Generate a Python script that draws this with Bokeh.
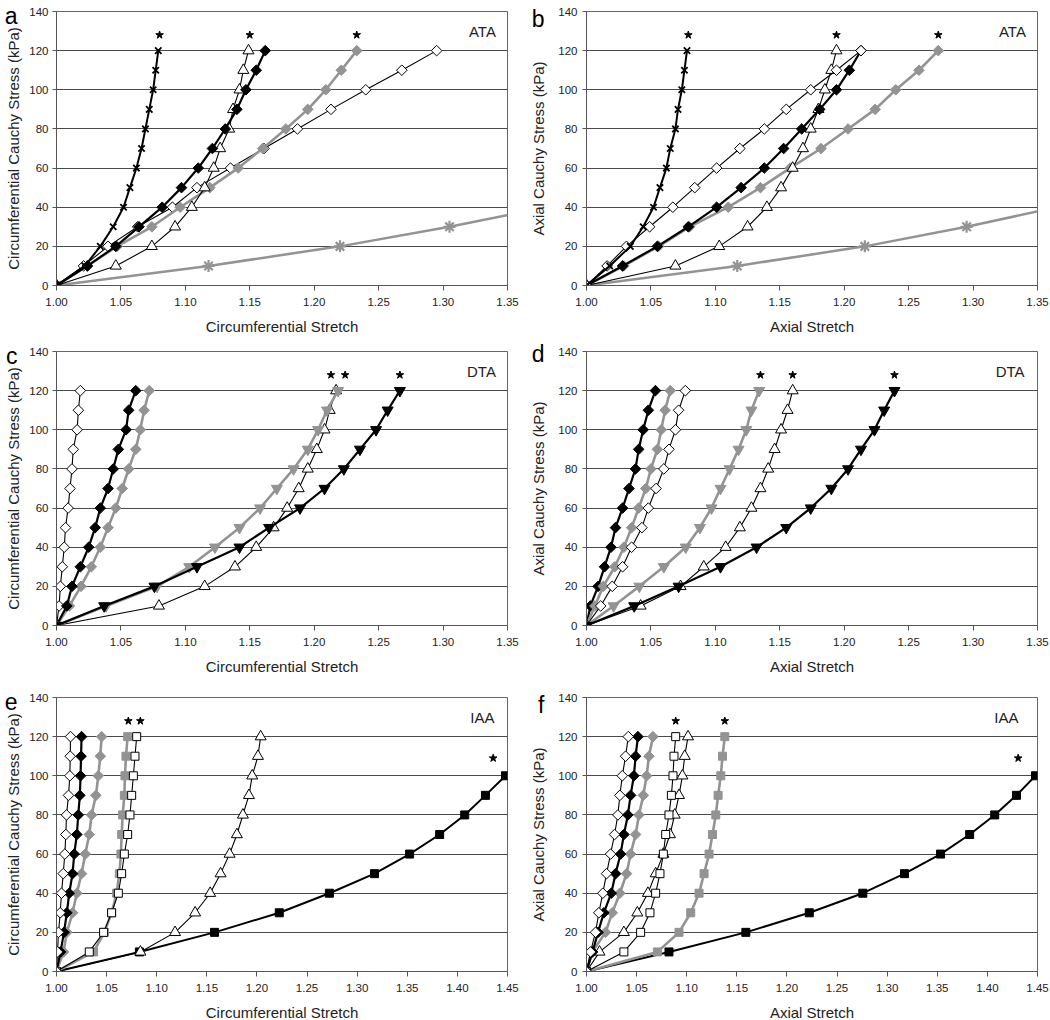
import numpy as np
from bokeh.plotting import figure
from bokeh.layouts import row, column
from bokeh.models import Label, FixedTicker, NumeralTickFormatter, LinearAxis
from bokeh.embed import file_html
from bokeh.resources import INLINE

# ---------------- data ----------------
STRESS = [0, 10, 20, 30, 40, 50, 60, 70, 80, 90, 100, 110, 120]
STRESS_100 = [0, 10, 20, 30, 40, 50, 60, 70, 80, 90, 100]
STRESS_AST = [0, 10, 20, 30, 40]
Y_TICKS = [0, 20, 40, 60, 80, 100, 120, 140]
X_TICKS_135 = [1.00, 1.05, 1.10, 1.15, 1.20, 1.25, 1.30, 1.35]
X_TICKS_145 = [1.00, 1.05, 1.10, 1.15, 1.20, 1.25, 1.30, 1.35, 1.40, 1.45]

# panel a (ATA, circumferential)
a_blk_cross = [1.000, 1.022, 1.034, 1.044, 1.052, 1.057, 1.062, 1.066, 1.069, 1.072, 1.075, 1.077, 1.079]
a_open_tri = [1.000, 1.046, 1.074, 1.092, 1.105, 1.115, 1.122, 1.127, 1.134, 1.137, 1.142, 1.145, 1.149]
a_blk_dia = [1.000, 1.024, 1.046, 1.064, 1.082, 1.097, 1.110, 1.121, 1.131, 1.140, 1.147, 1.155, 1.162]
a_open_dia = [1.000, 1.021, 1.040, 1.063, 1.090, 1.109, 1.135, 1.161, 1.187, 1.213, 1.240, 1.268, 1.295]
a_gray_dia = [1.000, 1.024, 1.047, 1.074, 1.096, 1.119, 1.141, 1.160, 1.178, 1.195, 1.209, 1.221, 1.233]
a_gray_ast = [1.000, 1.118, 1.220, 1.305, 1.380]
a_star_x = [1.080, 1.150, 1.233]
a_star_y = [128, 128, 128]

# panel b (ATA, axial)
b_blk_cross = [1.000, 1.018, 1.034, 1.044, 1.052, 1.057, 1.062, 1.065, 1.069, 1.071, 1.074, 1.076, 1.078]
b_open_dia = [1.000, 1.016, 1.031, 1.049, 1.067, 1.084, 1.101, 1.119, 1.138, 1.155, 1.174, 1.194, 1.213]
b_blk_dia = [1.000, 1.028, 1.055, 1.079, 1.101, 1.120, 1.138, 1.153, 1.167, 1.181, 1.194, 1.204, 1.213]
b_gray_dia = [1.000, 1.029, 1.056, 1.080, 1.110, 1.135, 1.158, 1.182, 1.203, 1.224, 1.240, 1.258, 1.273]
b_open_tri = [1.000, 1.069, 1.103, 1.125, 1.140, 1.151, 1.160, 1.168, 1.174, 1.180, 1.185, 1.190, 1.194]
b_gray_ast = [1.000, 1.117, 1.216, 1.295, 1.365]
b_star_x = [1.079, 1.194, 1.273]
b_star_y = [128, 128, 128]

# panel c (DTA, circumferential)
c_open_dia = [1.000, 1.002, 1.003, 1.0045, 1.006, 1.007, 1.009, 1.0105, 1.012, 1.013, 1.016, 1.017, 1.0185]
c_blk_dia = [1.000, 1.008, 1.012, 1.0185, 1.025, 1.030, 1.034, 1.040, 1.044, 1.048, 1.054, 1.056, 1.0615]
c_gray_dia = [1.000, 1.010, 1.019, 1.027, 1.034, 1.040, 1.046, 1.051, 1.056, 1.0615, 1.065, 1.068, 1.072]
c_gray_inv = [1.000, 1.0385, 1.078, 1.103, 1.123, 1.142, 1.158, 1.171, 1.184, 1.195, 1.203, 1.210, 1.2185]
c_open_tri = [1.000, 1.0795, 1.115, 1.1385, 1.155, 1.1685, 1.179, 1.188, 1.195, 1.202, 1.208, 1.212, 1.217]
c_blk_inv = [1.000, 1.037, 1.076, 1.109, 1.142, 1.165, 1.189, 1.208, 1.223, 1.2355, 1.248, 1.257, 1.2665]
c_star_x = [1.213, 1.224, 1.2665]
c_star_y = [128, 128, 128]

# panel d (DTA, axial)
d_blk_dia = [1.000, 1.003, 1.009, 1.014, 1.019, 1.0225, 1.028, 1.033, 1.038, 1.0405, 1.044, 1.048, 1.0535]
d_gray_dia = [1.000, 1.0065, 1.013, 1.022, 1.029, 1.035, 1.0405, 1.046, 1.050, 1.055, 1.058, 1.061, 1.065]
d_open_dia = [1.000, 1.011, 1.020, 1.028, 1.035, 1.043, 1.048, 1.054, 1.060, 1.064, 1.069, 1.0715, 1.0767]
d_gray_inv = [1.000, 1.021, 1.041, 1.060, 1.077, 1.088, 1.097, 1.104, 1.111, 1.118, 1.124, 1.128, 1.134]
d_open_tri = [1.000, 1.042, 1.073, 1.091, 1.108, 1.119, 1.128, 1.135, 1.141, 1.146, 1.151, 1.156, 1.160]
d_blk_inv = [1.000, 1.037, 1.0715, 1.104, 1.132, 1.155, 1.174, 1.190, 1.203, 1.213, 1.2235, 1.231, 1.239]
d_star_x = [1.135, 1.160, 1.239]
d_star_y = [128, 128, 128]

# panel e (IAA, circumferential)
e_open_dia = [1.000, 1.001, 1.002, 1.0037, 1.005, 1.0067, 1.0083, 1.0093, 1.010, 1.012, 1.0133, 1.0137, 1.014]
e_blk_dia = [1.000, 1.004, 1.0075, 1.0103, 1.0127, 1.016, 1.0177, 1.0203, 1.0217, 1.0233, 1.024, 1.0245, 1.025]
e_gray_dia = [1.000, 1.007, 1.0103, 1.016, 1.0203, 1.025, 1.0287, 1.0327, 1.035, 1.0393, 1.0417, 1.0437, 1.045]
e_gray_sq = [1.000, 1.037, 1.0477, 1.055, 1.060, 1.0627, 1.0643, 1.065, 1.066, 1.0677, 1.0683, 1.0693, 1.071]
e_open_sq = [1.000, 1.0327, 1.047, 1.055, 1.0617, 1.065, 1.0677, 1.071, 1.0733, 1.075, 1.0767, 1.0783, 1.080]
e_open_tri = [1.000, 1.0837, 1.1183, 1.1383, 1.1533, 1.1637, 1.1727, 1.180, 1.186, 1.192, 1.1953, 1.201, 1.2037]
e_blk_sq = [1.000, 1.0827, 1.1577, 1.2223, 1.2723, 1.3173, 1.3523, 1.3823, 1.4073, 1.428, 1.448]
e_star_x = [1.0717, 1.0837, 1.4357]
e_star_y = [128, 128, 109]

# panel f (IAA, axial)
f_open_dia = [1.000, 1.004, 1.009, 1.0123, 1.0163, 1.020, 1.024, 1.028, 1.0313, 1.0333, 1.0357, 1.039, 1.0417]
f_blk_dia = [1.000, 1.006, 1.0115, 1.0173, 1.0247, 1.029, 1.034, 1.0373, 1.0413, 1.044, 1.0473, 1.049, 1.0513]
f_gray_dia = [1.000, 1.0057, 1.019, 1.0257, 1.0333, 1.040, 1.044, 1.049, 1.0523, 1.0567, 1.060, 1.0623, 1.0663]
f_open_sq = [1.000, 1.0373, 1.054, 1.0633, 1.069, 1.0733, 1.0767, 1.079, 1.0823, 1.0847, 1.0863, 1.0873, 1.089]
f_open_tri = [1.000, 1.013, 1.0373, 1.0507, 1.0613, 1.069, 1.0767, 1.0833, 1.088, 1.0923, 1.0957, 1.098, 1.1013]
f_gray_sq = [1.000, 1.0707, 1.0923, 1.104, 1.1123, 1.1173, 1.1223, 1.1257, 1.129, 1.1313, 1.134, 1.1357, 1.138]
f_blk_sq = [1.000, 1.0823, 1.159, 1.2223, 1.2757, 1.3173, 1.3533, 1.3823, 1.4073, 1.429, 1.448]
f_star_x = [1.089, 1.138, 1.4307]
f_star_y = [128, 128, 109]

# ---------------- styles ----------------
GRAY = "#939393"
D45 = np.pi / 4
STYLES = {
    "blk_cross": dict(lc="black", lw=2.0, marker="x", size=9, fill="black", mlc="black", mlw=1.8, angle=0),
    "gray_ast": dict(lc=GRAY, lw=2.5, marker="asterisk", size=12, fill=GRAY, mlc=GRAY, mlw=2.2, angle=0),
    "open_tri": dict(lc="black", lw=1.1, marker="triangle", size=11, fill="white", mlc="black", mlw=1.0, angle=0),
    "blk_dia": dict(lc="black", lw=2.2, marker="square", size=7.5, fill="black", mlc="black", mlw=1.0, angle=D45),
    "gray_dia": dict(lc=GRAY, lw=2.6, marker="square", size=7.5, fill=GRAY, mlc=GRAY, mlw=1.0, angle=D45),
    "open_dia": dict(lc="black", lw=1.1, marker="square", size=7.5, fill="white", mlc="black", mlw=1.0, angle=D45),
    "blk_inv": dict(lc="black", lw=2.2, marker="inverted_triangle", size=11, fill="black", mlc="black", mlw=1.0, angle=0),
    "gray_inv": dict(lc=GRAY, lw=2.6, marker="inverted_triangle", size=11, fill=GRAY, mlc=GRAY, mlw=1.0, angle=0),
    "open_sq": dict(lc="black", lw=1.1, marker="square", size=8, fill="white", mlc="black", mlw=1.0, angle=0),
    "gray_sq": dict(lc=GRAY, lw=2.6, marker="square", size=8, fill=GRAY, mlc=GRAY, mlw=1.0, angle=0),
    "blk_sq": dict(lc="black", lw=2.0, marker="square", size=8, fill="black", mlc="black", mlw=1.0, angle=0),
}

FONT = "Liberation Sans"
FRAME_W = 451
FRAME_H = 274


def make_panel(series, xmax, xticks, xlabel, ylabel, ylab_size, letter, letter_y,
               region, region_x, stars_x, stars_y, left_col, top, bottom):
    if left_col:
        bl, br, ylab_stand, let_stand, tick_stand = 56, 19, 4, -15, 4
    else:
        bl, br, ylab_stand, let_stand, tick_stand = 60, 12, 8, -17, 5
    p = figure(frame_width=FRAME_W, frame_height=FRAME_H, x_range=(1.0, xmax), y_range=(0, 140),
               output_backend="svg", toolbar_location=None,
               min_border_left=bl, min_border_right=br, min_border_top=top, min_border_bottom=bottom,
               background_fill_color="white", border_fill_color="white")
    p.outline_line_color = "#666666"
    p.outline_line_width = 1
    p.xgrid.visible = False
    p.ygrid.grid_line_color = "#4a4a4a"
    p.ygrid.grid_line_width = 1
    p.ygrid.ticker = FixedTicker(ticks=Y_TICKS)

    p.xaxis.ticker = FixedTicker(ticks=xticks)
    p.xaxis.formatter = NumeralTickFormatter(format="0.00")
    p.yaxis.ticker = FixedTicker(ticks=Y_TICKS)
    for ax in (p.xaxis[0], p.yaxis[0]):
        ax.axis_line_color = "#555555"
        ax.major_tick_line_color = "#555555"
        ax.major_tick_in = 0
        ax.major_tick_out = 5 if ax is p.xaxis[0] else 4
        ax.minor_tick_line_color = None
        ax.major_label_text_font = FONT
        ax.major_label_text_font_size = "11.5px"
        ax.major_label_text_color = "#222222"
        ax.axis_label_text_font = FONT
        ax.axis_label_text_font_style = "normal"
        ax.axis_label_text_color = "#222222"
    p.xaxis.major_label_standoff = 7
    p.yaxis.major_label_standoff = tick_stand
    p.xaxis.axis_label = xlabel
    p.xaxis.axis_label_text_font_size = "15px"
    p.xaxis.axis_label_standoff = 9
    p.yaxis.axis_label = ylabel
    p.yaxis.axis_label_text_font_size = ylab_size
    p.yaxis.axis_label_standoff = ylab_stand

    # panel letter, drawn as the single tick label of an extra outer axis
    let_axis = LinearAxis(ticker=FixedTicker(ticks=[letter_y]),
                          major_label_overrides={letter_y: letter},
                          axis_line_color=None, major_tick_line_color=None,
                          minor_tick_line_color=None, major_tick_out=0, major_tick_in=0,
                          major_label_standoff=let_stand,
                          major_label_text_font=FONT, major_label_text_font_size="23px",
                          major_label_text_color="black")
    p.add_layout(let_axis, "left")

    for kind, xs, ys in series:
        st = STYLES[kind]
        p.line(xs, ys, line_color=st["lc"], line_width=st["lw"])
        p.scatter(xs, ys, marker=st["marker"], size=st["size"], fill_color=st["fill"],
                  line_color=st["mlc"], line_width=st["mlw"], angle=st["angle"])

    p.scatter(stars_x, stars_y, marker="star", size=8, fill_color="black", line_color="black")

    p.add_layout(Label(x=region_x, y=130, text=region, text_font=FONT, text_font_size="15px",
                       text_align="right", text_baseline="middle", text_color="#222222"))
    return p


CIRC_X = "Circumferential Stretch"
AX_X = "Axial Stretch"
CIRC_Y = "Circumferential Cauchy Stress (kPa)"
AX_Y = "Axial Cauchy Stress (kPa)"

pa = make_panel([
    ("gray_ast", a_gray_ast, STRESS_AST),
    ("open_dia", a_open_dia, STRESS),
    ("gray_dia", a_gray_dia, STRESS),
    ("open_tri", a_open_tri, STRESS),
    ("blk_dia", a_blk_dia, STRESS),
    ("blk_cross", a_blk_cross, STRESS),
], 1.35, X_TICKS_135, CIRC_X, CIRC_Y, "15px", "a", 140, "ATA", 1.341, a_star_x, a_star_y, True, 11, 55)

pb = make_panel([
    ("gray_ast", b_gray_ast, STRESS_AST),
    ("gray_dia", b_gray_dia, STRESS),
    ("open_tri", b_open_tri, STRESS),
    ("blk_dia", b_blk_dia, STRESS),
    ("open_dia", b_open_dia, STRESS),
    ("blk_cross", b_blk_cross, STRESS),
], 1.35, X_TICKS_135, AX_X, AX_Y, "15px", "b", 136, "ATA", 1.341, b_star_x, b_star_y, False, 11, 55)

pc = make_panel([
    ("open_dia", c_open_dia, STRESS),
    ("gray_dia", c_gray_dia, STRESS),
    ("blk_dia", c_blk_dia, STRESS),
    ("open_tri", c_open_tri, STRESS),
    ("gray_inv", c_gray_inv, STRESS),
    ("blk_inv", c_blk_inv, STRESS),
], 1.35, X_TICKS_135, CIRC_X, CIRC_Y, "15px", "c", 140, "DTA", 1.341, c_star_x, c_star_y, True, 11, 60)

pd_ = make_panel([
    ("blk_dia", d_blk_dia, STRESS),
    ("gray_dia", d_gray_dia, STRESS),
    ("open_dia", d_open_dia, STRESS),
    ("gray_inv", d_gray_inv, STRESS),
    ("open_tri", d_open_tri, STRESS),
    ("blk_inv", d_blk_inv, STRESS),
], 1.35, X_TICKS_135, AX_X, AX_Y, "15px", "d", 139, "DTA", 1.340, d_star_x, d_star_y, False, 11, 60)

pe = make_panel([
    ("blk_sq", e_blk_sq, STRESS_100),
    ("open_tri", e_open_tri, STRESS),
    ("gray_sq", e_gray_sq, STRESS),
    ("open_sq", e_open_sq, STRESS),
    ("gray_dia", e_gray_dia, STRESS),
    ("blk_dia", e_blk_dia, STRESS),
    ("open_dia", e_open_dia, STRESS),
], 1.45, X_TICKS_145, CIRC_X, CIRC_Y, "15px", "e", 138, "IAA", 1.437, e_star_x, e_star_y, True, 12, 48)

pf = make_panel([
    ("blk_sq", f_blk_sq, STRESS_100),
    ("gray_sq", f_gray_sq, STRESS),
    ("open_tri", f_open_tri, STRESS),
    ("open_sq", f_open_sq, STRESS),
    ("gray_dia", f_gray_dia, STRESS),
    ("blk_dia", f_blk_dia, STRESS),
    ("open_dia", f_open_dia, STRESS),
], 1.45, X_TICKS_145, AX_X, AX_Y, "15px", "f", 136, "IAA", 1.431, f_star_x, f_star_y, False, 12, 48)

layout = column(row(pa, pb), row(pc, pd_), row(pe, pf))

with open("out.html", "w") as fh:
    fh.write(file_html(layout, INLINE))
